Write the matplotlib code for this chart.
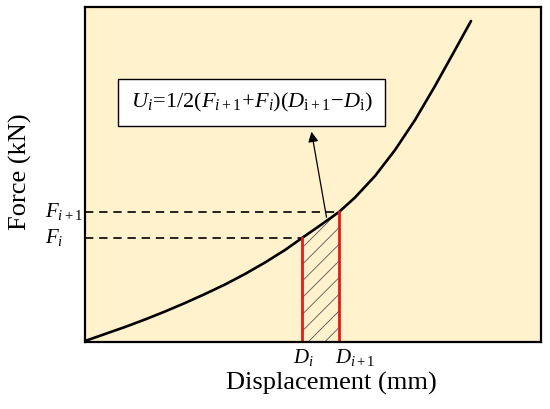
import matplotlib
matplotlib.use("Agg")
import matplotlib.pyplot as plt

# Curve data (arbitrary units)
disp = [0, 20, 40, 60, 80, 100, 120, 140, 160, 180, 200, 217, 235, 254,
        270, 290, 310, 330, 350, 370, 386]
force = [1, 8, 15, 22.5, 30.5, 39, 48, 57.5, 68, 79.5, 92, 104, 116.5, 130,
         144.5, 166, 192, 222, 256, 292, 321]

# Marked interval
D_vals = [217, 254]
F_vals = [104, 130]
D_labels = [r"$D_i$", r"$D_{i+1}$"]
F_labels = [r"$F_i$", r"$F_{i+1}$"]

formula = r"$U_i\!=\!1/2(F_{i+1}\!+\!F_i)(D_{\mathrm{i+1}}\!-\!D_{\mathrm{i}})$"
xlabel = "Displacement (mm)"
ylabel = "Force (kN)"

plt.rcParams["font.family"] = ["Liberation Serif", "DejaVu Serif"]
plt.rcParams["mathtext.fontset"] = "custom"
plt.rcParams["mathtext.rm"] = "Liberation Serif"
plt.rcParams["mathtext.it"] = "Liberation Serif:italic"
plt.rcParams["mathtext.bf"] = "Liberation Serif:bold"
plt.rcParams["hatch.linewidth"] = 0.6
plt.rcParams["hatch.color"] = "#555555"

fig = plt.figure(figsize=(5.5, 4.09), dpi=100)
ax = fig.add_axes([85/550, 1-342/409, 456/550, 335/409])
ax.set_facecolor("#FFF2CC")
ax.set_xlim(0, 456)
ax.set_ylim(0, 335)
for s in ax.spines.values():
    s.set_linewidth(1.6)
    s.set_color("black")
ax.set_xticks([])
ax.set_yticks([])

# hatched trapezoid
ax.fill_between(D_vals, [0, 0], F_vals, facecolor="none", hatch="//",
                edgecolor="#555555", linewidth=0)

ax.plot(disp, force, color="black", lw=1.9, solid_capstyle="round",
        solid_joinstyle="round")

for d, f in zip(D_vals, F_vals):
    ax.plot([0, d], [f, f], color="black", lw=1.2, ls=(0, (5, 3.5)))
    ax.plot([d, d], [0, f], color="#E41A1A", lw=2.0)

# tick-like labels
ax.text(D_vals[0] + 1, -5, D_labels[0], ha="center", va="top", fontsize=15)
ax.text(D_vals[1] - 4, -5, D_labels[1], ha="left", va="top", fontsize=15)
for f, lab in zip(F_vals, F_labels):
    ax.text(-40, f, lab, ha="left", va="center", fontsize=15)

ax.text(166.5, 239.5, formula, ha="center", va="center", fontsize=16,
        bbox=dict(boxstyle="square,pad=0.55", facecolor="white",
                  edgecolor="black", lw=1.0))

ax.annotate("", xy=(226, 213), xytext=(242, 122),
            arrowprops=dict(arrowstyle="-|>", color="black", lw=0.9,
                            mutation_scale=15))

fig.text(331/550, 1-383/409, xlabel, ha="center", va="center", fontsize=19)
fig.text(20/550, 1-172/409, ylabel, ha="center", va="center", fontsize=19,
         rotation=90)

fig.savefig("out.png", dpi=100)
